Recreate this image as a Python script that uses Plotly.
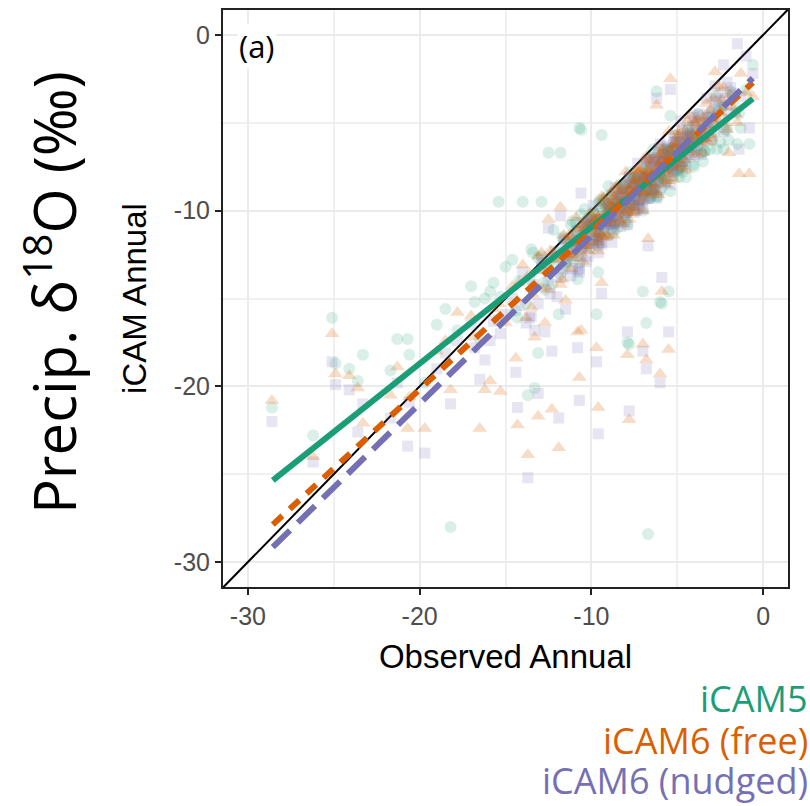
import plotly.graph_objects as go

# ---------------- data ----------------
observed = [
    -1.0, -1.3, -1.6, -1.9, -2.1, -2.3, -2.6, -2.8, -3.0, -3.1, -3.3, -3.5, -3.6, -3.8, -3.9, -4.1,
    -4.2, -4.4, -4.5, -4.6, -4.8, -4.9, -5.0, -5.1, -5.2, -5.4, -5.5, -5.6, -5.7, -5.9, -6.0, -6.1,
    -6.2, -6.4, -6.5, -6.6, -6.8, -6.9, -7.0, -7.1, -7.3, -7.4, -7.5, -7.7, -7.8, -7.9, -8.0, -8.2,
    -8.3, -8.4, -8.6, -8.7, -8.8, -9.0, -9.1, -9.2, -9.4, -9.5, -9.6, -9.8, -9.9, -10.1, -10.2, -10.4,
    -10.5, -10.7, -10.9, -11.0, -11.2, -11.4, -11.6, -11.8, -12.0, -12.2, -12.5, -12.8, -13.1, -13.4,
    -13.8, -14.2,
    -28.6, -26.2, -25.1, -24.9, -24.1, -23.6, -23.3, -21.7, -21.3, -20.7, -20.6, -19.7, -18.5, -18.2,
    -16.5, -16.2, -15.9, -15.4, -15.3, -14.4, -14.3, -14.0, -13.7, -13.3, -13.1, -12.9, -12.5, -12.3,
    -11.9, -11.8, -10.8, -10.7, -10.6, -9.7, -9.6, -9.4, -7.8, -7.9, -7.0, -6.8, -6.7, -6.2, -6.0,
    -5.9, -5.5, -5.4, -2.8, -2.3, -2.0, -1.5, -1.4, -0.8, -0.6,
    -17.0, -16.8, -15.7, -15.0, -14.6, -13.5, -12.7, -11.5, -19.0, -17.8,
    -2.2, -2.4, -2.7, -2.9, -3.2, -3.4, -3.7, -4.0, -4.3, -4.7, -5.3, -5.8, -6.3, -6.7, -7.2, -7.6,
    -8.1, -8.5, -8.9, -9.3, -9.7, -10.0, -10.3, -10.6, -10.8, -11.1, -11.3, -11.7, -12.1, -12.4,
    -3.0, -3.5, -4.0, -4.4, -4.8, -5.2, -5.6, -6.0, -6.3, -6.6, -6.9, -7.2, -7.5, -7.8, -8.1, -8.4,
    -8.7, -9.0, -9.3, -9.6, -9.9, -10.3, -10.7, -11.1, -11.5, -4.3, -5.0, -5.5, -6.1, -6.6, -7.0,
    -7.5, -8.0, -8.5, -9.1, -9.6, -10.2, -10.8, -5.8, -6.4, -7.0, -7.6, -8.2, -8.8, -9.4, -4.6,
    -5.3, -6.2, -6.9, -7.7, -8.6, -12.9, -13.6, -1.8, -2.5, -3.8, -4.9, -5.7, -6.8, -7.3,
    -3.2, -3.6, -3.9, -4.2, -4.5, -4.8, -5.0, -5.2, -5.4, -5.6, -5.8, -6.0, -6.2, -6.4, -6.6, -6.8,
    -7.0, -7.2, -7.4, -7.6, -7.8, -8.0, -8.2, -8.4, -8.6, -8.8, -9.0, -9.2, -9.4, -9.6, -9.8, -10.0,
    -10.3, -10.6, -10.9, -11.2, -4.4, -4.7, -5.1, -5.5, -5.9, -6.3, -6.7, -7.1, -7.5, -7.9, -8.3,
    -8.7, -9.1, -9.5, -9.9, -5.3, -6.0, -6.5, -7.3, -8.1, -8.9, -3.4, -4.1, -10.5,
]
icam5 = [
    -3.1, -5.3, -4.1, -3.2, -5.4, -6.5, -4.3, -5.5, -4.4, -6.5, -5.2, -7.2, -5.9, -4.5, -6.6, -7.4,
    -5.7, -5.4, -8.1, -6.5, -6.1, -8.1, -6.8, -5.7, -7.8, -8.9, -6.5, -7.7, -6.5, -8.7, -7.3, -9.2,
    -7.9, -6.5, -8.6, -9.3, -7.8, -7.3, -10.0, -8.5, -8.0, -10.0, -8.7, -7.8, -9.8, -10.8, -8.5, -9.7,
    -8.5, -10.6, -9.4, -11.2, -9.9, -8.6, -10.6, -11.3, -9.8, -9.4, -12.0, -10.6, -10.1, -12.1, -10.8, -9.9,
    -11.9, -13.0, -10.7, -11.9, -10.8, -12.9, -11.7, -13.6, -12.4, -11.1, -13.3, -14.1, -12.7, -12.4,
    -15.3, -14.0,
    -21.2, -22.8, -16.1, -18.7, -19.0, -19.7, -18.2, -19.1, -17.3, -17.3, -18.2, -19.8, -15.6, -28.0,
    -17.3, -15.0, -14.6, -9.5, -14.9, -15.7, -16.1, -9.5, -20.5, -20.1, -18.1, -9.5, -6.7, -14.2,
    -15.9, -6.7, -13.9, -5.3, -5.4, -15.9, -13.5, -5.7, -17.6, -17.5, -14.6, -16.4, -28.4, -3.2, -15.2,
    -15.3, -14.6, -4.6, -3.5, -4.0, -6.0, -6.2, -4.5, -6.2, -1.7,
    -14.3, -15.2, -14.1, -13.2, -12.8, -12.2, -14.5, -13.0, -16.5, -16.8,
    -5.4, -4.1, -6.5, -5.1, -4.7, -6.6, -5.4, -6.5, -5.3, -7.8, -6.9, -8.3, -7.3, -8.7, -8.8, -9.6,
    -8.6, -11.0, -9.8, -9.4, -11.5, -10.3, -11.4, -10.2, -12.6, -11.4, -12.6, -11.5, -12.9, -12.8,
    -6.0, -5.0, -7.5, -6.3, -5.9, -8.0, -6.9, -8.0, -6.9, -9.3, -8.1, -9.4, -8.2, -9.5, -9.5, -10.2,
    -9.0, -11.4, -10.1, -9.6, -11.7, -10.6, -11.7, -10.6, -13.1, -6.1, -7.7, -6.6, -8.2, -8.3, -9.1,
    -8.1, -10.6, -9.5, -9.2, -11.4, -10.5, -11.8, -6.5, -9.1, -8.2, -9.7, -8.7, -10.3, -10.5, -7.2,
    -6.4, -9.2, -8.2, -8.2, -10.7, -12.6, -13.9, -3.4, -6.1, -5.7, -7.6, -6.8, -8.8, -8.8,
    -5.3, -6.7, -6.1, -5.6, -7.0, -7.5, -6.5, -7.3, -7.1, -8.3, -7.2, -7.8, -7.6, -8.8, -8.2, -7.7,
    -8.9, -9.4, -8.3, -9.2, -8.9, -10.2, -9.0, -9.7, -9.5, -10.7, -10.1, -9.5, -10.8, -11.2, -10.2, -11.0,
    -10.9, -12.2, -11.1, -11.9, -6.2, -7.5, -7.0, -6.6, -8.1, -8.7, -7.8, -8.8, -8.7, -10.1, -9.1,
    -9.9, -9.8, -11.3, -10.8, -6.5, -8.1, -8.8, -8.2, -9.6, -9.8, -6.6, -5.9, -11.3,
]
icam6_free = [
    -3.3, -2.2, -4.5, -3.4, -5.4, -4.1, -2.9, -5.1, -5.9, -4.3, -3.9, -6.7, -5.2, -4.8, -6.8, -5.6,
    -4.6, -6.7, -7.7, -5.4, -6.7, -5.5, -7.6, -6.3, -8.2, -6.9, -5.5, -7.6, -8.3, -6.8, -6.4, -9.1,
    -7.6, -7.1, -9.1, -7.8, -6.9, -9.0, -10.0, -7.7, -8.9, -7.7, -9.8, -8.6, -10.5, -9.2, -7.8, -10.0,
    -10.6, -9.0, -8.7, -11.4, -9.9, -9.5, -11.5, -10.2, -9.2, -11.3, -12.3, -10.1, -11.3, -10.2, -12.3, -11.0,
    -12.9, -11.7, -10.4, -12.5, -13.3, -11.7, -11.4, -14.2, -12.8, -12.4, -14.5, -13.4, -12.6, -14.8,
    -16.1, -14.1,
    -20.8, -24.0, -17.0, -19.3, -19.4, -20.1, -22.1, -20.5, -18.9, -22.4, -20.6, -22.4, -17.4, -20.2,
    -22.4, -20.2, -19.7, -15.3, -20.3, -18.4, -22.2, -13.1, -23.9, -17.2, -21.7, -12.4, -10.5, -21.3,
    -23.5, -9.8, -16.9, -19.5, -16.8, -17.8, -21.2, -14.1, -21.9, -18.2, -17.6, -18.5, -11.6, -4.0, -19.3,
    -14.6, -17.9, -2.5, -2.1, -3.0, -6.7, -5.0, -7.9, -7.9, -3.5,
    -16.0, -17.2, -15.6, -16.4, -14.3, -15.5, -16.4, -15.1, -18.0, -15.8,
    -5.0, -3.7, -4.8, -3.6, -6.1, -4.8, -6.1, -5.0, -6.3, -6.4, -7.4, -6.5, -9.0, -7.9, -7.7, -9.8,
    -8.9, -10.0, -9.0, -11.5, -10.5, -11.8, -10.6, -12.0, -11.9, -12.7, -11.4, -13.9, -12.8, -12.3,
    -5.7, -4.7, -6.0, -4.9, -7.5, -6.5, -7.8, -6.8, -8.1, -8.1, -8.9, -7.8, -10.1, -8.9, -8.5, -10.5,
    -9.4, -10.5, -9.3, -11.8, -10.7, -12.0, -11.0, -12.5, -12.5, -6.5, -5.8, -8.3, -7.4, -7.1, -9.3,
    -8.3, -9.6, -8.6, -11.4, -10.4, -12.0, -11.1, -7.7, -7.9, -9.0, -8.1, -10.8, -9.8, -9.6, -7.1,
    -6.3, -8.0, -7.2, -10.1, -9.5, -14.4, -13.6, -4.1, -4.4, -6.1, -5.7, -8.5, -8.0, -7.7,
    -5.4, -6.0, -5.1, -6.1, -5.9, -7.3, -6.2, -6.9, -6.6, -7.9, -7.3, -6.8, -8.1, -8.5, -7.5, -8.4,
    -8.2, -9.5, -8.3, -9.0, -8.8, -10.1, -9.5, -8.9, -10.2, -10.7, -9.7, -10.6, -10.3, -11.6, -10.5, -11.2,
    -11.0, -12.4, -11.9, -11.5, -6.4, -7.0, -6.2, -7.2, -7.2, -8.6, -7.7, -8.6, -8.5, -10.0, -9.5,
    -9.2, -10.7, -11.3, -10.5, -7.0, -7.3, -8.8, -8.2, -9.5, -9.8, -5.9, -5.8, -10.8,
]
icam6_nudged = [
    -1.2, -3.5, -4.4, -3.0, -2.7, -5.5, -4.2, -3.8, -5.9, -4.6, -3.6, -5.8, -6.8, -4.6, -5.8, -4.7,
    -6.8, -5.6, -7.5, -6.2, -4.9, -7.0, -7.7, -6.1, -5.7, -8.5, -6.9, -6.4, -8.4, -7.2, -6.2, -8.3,
    -9.3, -7.1, -8.3, -7.1, -9.3, -8.0, -9.9, -8.6, -7.3, -9.4, -10.1, -8.5, -8.1, -10.8, -9.3, -8.9,
    -10.9, -9.6, -8.7, -10.8, -11.8, -9.6, -10.8, -9.6, -11.8, -10.5, -12.4, -11.2, -9.7, -11.9, -12.6, -11.1,
    -10.7, -13.5, -12.1, -11.6, -13.7, -12.5, -11.6, -13.8, -14.9, -12.6, -14.0, -13.0, -15.3, -14.2,
    -16.4, -15.4,
    -22.0, -24.3, -18.6, -19.9, -20.2, -22.6, -21.0, -21.8, -19.8, -23.4, -20.9, -23.8, -18.1, -21.0,
    -19.6, -18.5, -17.4, -16.2, -17.0, -19.2, -21.2, -13.5, -25.2, -16.8, -20.4, -12.8, -11.0, -18.0,
    -21.8, -10.3, -17.8, -20.8, -9.0, -18.6, -22.7, -14.7, -21.4, -16.9, -18.0, -19.0, -12.0, -3.6, -19.8,
    -13.8, -16.9, -3.1, -2.9, -1.7, -4.5, -0.5, -6.5, -5.3, -2.2,
    -16.5, -17.8, -16.3, -15.9, -15.0, -16.0, -16.9, -15.6, -19.0, -17.4,
    -3.6, -4.8, -3.7, -5.0, -5.0, -5.6, -4.5, -6.9, -5.7, -5.4, -7.8, -6.8, -8.1, -7.1, -9.8, -8.8,
    -10.2, -9.2, -10.7, -10.8, -11.7, -10.5, -12.9, -11.7, -11.2, -13.3, -12.1, -13.3, -12.3, -14.7,
    -4.4, -5.8, -4.9, -6.4, -6.5, -7.4, -6.3, -8.8, -7.6, -7.2, -9.3, -8.2, -9.3, -8.1, -10.6, -9.5,
    -10.8, -9.7, -11.1, -11.1, -11.8, -10.8, -13.3, -12.2, -11.9, -6.8, -6.1, -7.3, -6.5, -9.2, -8.2,
    -9.7, -8.7, -10.3, -10.6, -11.6, -10.7, -13.4, -7.1, -7.0, -9.4, -8.6, -9.9, -9.1, -11.9, -5.9,
    -7.6, -7.0, -8.8, -9.2, -10.6, -13.3, -16.1, -3.3, -3.3, -6.3, -6.0, -7.5, -7.2, -9.9,
    -4.7, -6.1, -5.1, -5.9, -5.8, -7.2, -6.6, -6.1, -7.4, -7.8, -6.8, -7.7, -7.5, -8.8, -7.7, -8.4,
    -8.2, -9.5, -8.9, -8.4, -9.6, -10.1, -9.1, -10.0, -9.8, -11.1, -10.0, -10.7, -10.5, -11.8, -11.2, -10.6,
    -12.0, -12.6, -11.7, -12.7, -5.8, -7.2, -6.3, -7.1, -7.1, -8.6, -8.2, -7.9, -9.4, -10.0, -9.2,
    -10.3, -10.3, -11.8, -10.8, -7.0, -7.2, -8.8, -8.8, -8.8, -10.7, -5.7, -5.2, -12.0,
]

# regression lines (endpoints)
fit_x = [-28.55, -0.6]
fit_icam5 = [-25.35, -3.63]
fit_icam6_free = [-27.87, -2.71]
fit_icam6_nudged = [-29.15, -2.46]

one_to_one = [-31.45, 1.45]

series_names = ["iCAM5", "iCAM6 (free)", "iCAM6 (nudged)"]
series_colors = ["#1B9E77", "#D95F02", "#7570B3"]

x_ticks = [-30, -20, -10, 0]
y_ticks = [-30, -20, -10, 0]

# ---------------- figure ----------------
fig = go.Figure()

# 1:1 line
fig.add_trace(go.Scatter(x=one_to_one, y=one_to_one, mode="lines",
                         line=dict(color="black", width=2), showlegend=False, hoverinfo="skip"))

# scatter points
fig.add_trace(go.Scatter(x=observed, y=icam5, mode="markers", name=series_names[0],
                         marker=dict(symbol="circle", size=12, color=series_colors[0], opacity=0.17,
                                     line=dict(width=0)), showlegend=False))
fig.add_trace(go.Scatter(x=observed, y=icam6_nudged, mode="markers", name=series_names[2],
                         marker=dict(symbol="square", size=11, color=series_colors[2], opacity=0.18,
                                     line=dict(width=0)), showlegend=False))
fig.add_trace(go.Scatter(x=observed, y=icam6_free, mode="markers", name=series_names[1],
                         marker=dict(symbol="triangle-up", size=13, color=series_colors[1], opacity=0.22,
                                     line=dict(width=0)), showlegend=False))

# fit lines
fig.add_trace(go.Scatter(x=fit_x, y=fit_icam5, mode="lines",
                         line=dict(color=series_colors[0], width=6), showlegend=False))
fig.add_trace(go.Scatter(x=fit_x, y=fit_icam6_free, mode="lines",
                         line=dict(color=series_colors[1], width=6, dash="13px,10px"), showlegend=False))
fig.add_trace(go.Scatter(x=fit_x, y=fit_icam6_nudged, mode="lines",
                         line=dict(color=series_colors[2], width=6, dash="24px,11px"), showlegend=False))

axis_common = dict(
    showgrid=True, gridcolor="#EBEBEB", gridwidth=2,
    minor=dict(dtick=5, showgrid=True, gridcolor="#F0F0F0", gridwidth=1.5, ticks=""),
    showline=True, linecolor="#222222", linewidth=2, mirror=True,
    ticks="outside", ticklen=6, tickwidth=2, tickcolor="#222222",
    tickfont=dict(family="Liberation Sans, Arial, sans-serif", size=25, color="#4D4D4D"),
    zeroline=False,
)

fig.update_xaxes(range=[-31.45, 1.45], tickvals=x_ticks, ticktext=[str(v) for v in x_ticks],
                 title=dict(text="Observed Annual", standoff=16,
                            font=dict(family="Liberation Sans, Arial, sans-serif", size=33, color="black")),
                 **axis_common)
fig.update_yaxes(range=[-31.42, 1.42], tickvals=y_ticks, ticktext=[str(v) for v in y_ticks],
                 title=dict(text="iCAM Annual", standoff=17,
                            font=dict(family="Liberation Sans, Arial, sans-serif", size=33, color="black")),
                 **axis_common)

# plot area in page pixels: x 223..788, y 8..587
def px_x(px):
    return (px - 223) / 565


def px_y(py):
    return 1 - (py - 8) / 579


annotations = [
    dict(text="(a)", xref="paper", yref="paper", x=px_x(237), y=px_y(44),
         xanchor="left", yanchor="middle", showarrow=False,
         font=dict(family="Open Sans, sans-serif", size=31, color="black"),
         bgcolor="white"),
    dict(text="Precip. δ<sup>18</sup>O (‰)", xref="paper", yref="paper",
         x=px_x(51), y=px_y(292), textangle=-90,
         xanchor="center", yanchor="middle", showarrow=False,
         font=dict(family="Open Sans, sans-serif", size=58, color="black")),
]
legend_y = [699, 741, 781]
for name, color, ypx in zip(series_names, series_colors, legend_y):
    annotations.append(dict(text=name, xref="paper", yref="paper",
                            x=px_x(810), y=px_y(ypx),
                            xanchor="right", yanchor="middle", showarrow=False,
                            font=dict(family="Open Sans, sans-serif", size=36, color=color)))

fig.update_layout(
    width=810, height=806,
    margin=dict(l=223, r=22, t=8, b=219),
    plot_bgcolor="white", paper_bgcolor="white",
    showlegend=False,
    annotations=annotations,
)

fig.write_html(
    "out.html",
    config={"displayModeBar": False},
    post_script="document.body.style.margin='0';document.body.style.overflow='hidden';",
)
